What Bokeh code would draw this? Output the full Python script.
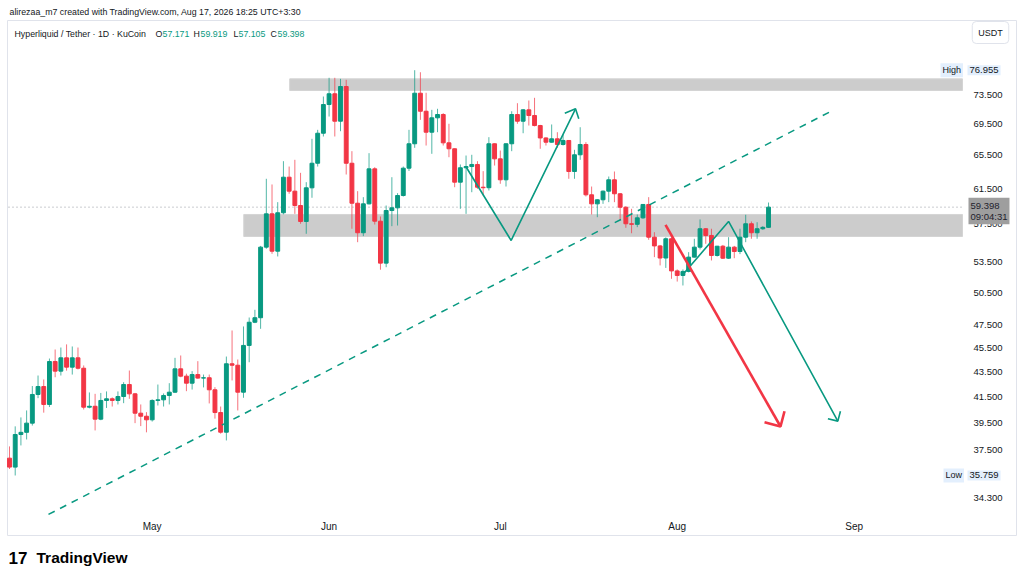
import math
import pandas as pd
from bokeh.plotting import figure
from bokeh.models import ColumnDataSource, Range1d, Label
from bokeh.embed import file_html
from bokeh.resources import INLINE

# daily candles HYPE/USDT, from 2026-04-06 to 2026-08-17
start = pd.Timestamp("2026-04-06")

opens = [36.95, 36.33, 38.64, 38.80, 39.48, 41.68, 42.31, 40.90, 44.36, 43.56,
         44.67, 43.89, 44.67, 43.80, 40.69, 40.76, 39.78, 41.21, 41.34, 41.21,
         41.52, 42.47, 41.73, 40.23, 40.00, 39.73, 41.21, 41.26, 41.60, 41.86,
         43.75, 43.15, 42.58, 43.28, 42.99, 43.02, 42.05, 40.28, 38.81, 44.17,
         44.05, 41.86, 45.73, 47.78, 48.19, 55.07, 58.65, 54.65, 58.77, 62.86,
         61.22, 59.58, 57.81, 61.61, 64.54, 68.31, 72.12, 73.60, 69.88, 74.62,
         64.54, 59.84, 56.59, 59.77, 63.86, 57.84, 53.43, 59.02, 59.32, 60.72,
         63.94, 66.96, 73.68, 71.21, 68.44, 70.33, 70.77, 67.08, 66.33, 62.27,
         63.99, 64.14, 64.39, 61.68, 61.62, 66.96, 65.08, 62.55, 66.96, 70.77,
         69.88, 71.40, 70.64, 69.31, 67.70, 67.16, 67.59, 66.87, 67.38, 63.54,
         65.58, 66.87, 60.80, 59.77, 60.23, 61.22, 62.55, 60.92, 59.39, 57.56,
         57.50, 58.21, 59.70, 56.12, 55.20, 53.95, 55.95, 52.65, 52.20, 52.60,
         54.04, 55.07, 57.02, 56.30, 54.21, 55.17, 53.93, 55.07, 54.62, 56.12,
         57.56, 56.59, 57.02, 57.171]
highs = [37.78, 39.24, 39.91, 40.44, 42.35, 43.20, 42.88, 44.61, 45.38, 45.55,
         45.82, 45.64, 45.55, 44.03, 41.84, 41.73, 41.80, 41.92, 41.45, 41.92,
         42.66, 43.61, 41.80, 40.90, 40.31, 41.30, 42.47, 41.76, 42.58, 44.67,
         44.87, 43.35, 43.56, 44.39, 43.28, 43.28, 42.26, 40.74, 44.78, 47.04,
         44.53, 47.40, 48.21, 48.92, 55.20, 62.67, 62.00, 59.96, 64.79, 64.14,
         64.96, 63.38, 62.27, 67.59, 68.75, 73.22, 75.86, 75.86, 75.71, 75.57,
         66.03, 61.22, 60.53, 65.78, 64.06, 58.36, 59.58, 62.86, 60.99, 64.14,
         68.75, 76.955, 76.66, 73.74, 71.40, 71.54, 70.95, 69.54, 66.37, 64.39,
         65.49, 65.58, 64.79, 63.58, 67.80, 67.00, 66.11, 67.00, 71.21, 72.30,
         71.50, 72.67, 73.04, 69.40, 67.80, 69.45, 68.44, 68.15, 67.40, 66.20,
         69.09, 67.16, 61.76, 60.30, 61.30, 62.94, 63.54, 61.00, 59.50, 59.21,
         58.58, 59.75, 60.53, 56.65, 55.30, 56.10, 56.10, 52.80, 52.80, 54.55,
         55.95, 58.03, 57.10, 57.02, 55.20, 55.30, 56.12, 55.20, 57.02, 58.55,
         57.81, 57.73, 57.30, 59.919]
lows = [36.20, 35.759, 37.85, 38.28, 39.30, 41.39, 40.27, 40.70, 43.06, 43.20,
        43.60, 43.28, 43.70, 40.51, 40.60, 38.94, 39.70, 40.63, 40.74, 40.90,
        41.00, 41.34, 39.48, 39.26, 38.80, 39.60, 40.82, 40.74, 40.90, 41.80,
        43.06, 41.94, 42.07, 42.94, 42.24, 40.98, 39.82, 38.70, 38.21, 42.80,
        40.44, 41.42, 44.30, 47.70, 47.19, 54.90, 54.38, 54.11, 58.60, 60.92,
        58.65, 57.56, 56.48, 60.46, 64.14, 67.89, 70.50, 67.89, 68.57, 63.18,
        57.02, 55.59, 56.23, 59.70, 57.48, 52.77, 53.02, 57.30, 57.37, 60.60,
        63.60, 66.45, 70.06, 66.74, 65.70, 68.44, 66.74, 65.28, 61.68, 59.21,
        58.65, 61.10, 61.49, 60.72, 61.30, 64.26, 62.08, 61.76, 66.03, 69.54,
        68.31, 69.31, 69.20, 66.33, 66.74, 67.10, 66.45, 66.74, 62.67, 62.67,
        64.96, 60.61, 58.58, 58.28, 59.77, 59.96, 59.96, 57.92, 57.12, 56.54,
        57.19, 58.10, 55.84, 54.04, 53.20, 52.95, 51.87, 51.60, 51.22, 52.50,
        54.00, 54.83, 55.42, 53.70, 54.10, 53.85, 53.85, 53.93, 54.35, 55.59,
        55.95, 55.95, 56.90, 57.105]
closes = [36.33, 38.64, 38.80, 39.48, 41.68, 42.31, 40.90, 44.36, 43.56, 44.67,
          43.89, 44.67, 43.80, 40.69, 40.76, 39.78, 41.21, 41.34, 41.21, 41.52,
          42.47, 41.73, 40.23, 40.00, 39.73, 41.21, 41.26, 41.60, 41.86, 43.75,
          43.15, 42.58, 43.28, 42.99, 43.02, 42.05, 40.28, 38.81, 44.17, 44.05,
          41.86, 45.73, 47.78, 48.19, 55.07, 58.65, 54.65, 58.77, 62.86, 61.22,
          59.58, 57.81, 61.61, 64.54, 68.31, 72.12, 73.60, 69.88, 74.62, 64.54,
          59.84, 56.59, 59.77, 63.86, 57.84, 53.43, 59.02, 59.32, 60.72, 63.94,
          66.96, 73.68, 71.21, 68.44, 70.33, 70.77, 67.08, 66.33, 62.27, 63.99,
          64.14, 64.39, 61.68, 61.62, 66.96, 65.08, 62.55, 66.96, 70.77, 69.88,
          71.40, 70.64, 69.31, 67.70, 67.16, 67.59, 66.87, 67.38, 63.54, 65.58,
          66.87, 60.80, 59.77, 60.23, 61.22, 62.55, 60.92, 59.39, 57.56, 57.50,
          58.21, 59.70, 56.12, 55.20, 53.95, 55.95, 52.65, 52.20, 52.60, 54.04,
          55.07, 57.02, 56.30, 54.21, 55.17, 53.93, 55.07, 54.62, 56.12, 57.56,
          56.59, 57.02, 57.171, 59.398]

price_ticks = [34.3, 37.5, 39.5, 41.5, 43.5, 45.5, 47.5, 50.5, 53.5, 57.5, 61.5, 65.5, 69.5, 73.5]
month_ticks = ["2026-05-01", "2026-06-01", "2026-07-01", "2026-08-01", "2026-09-01"]
month_names = ["May", "Jun", "Jul", "Aug", "Sep"]
hi_price, lo_price, last_price = 76.955, 35.759, 59.398
countdown = "09:04:31"

# drawings: (day offset from start, price)
zone_top = (49.1, 74.06, 75.71)
zone_mid = (41.05, 56.19, 58.58)
trend_day = [6.83, 143.86]
trend_price = [33.22, 71.17]
v_day = [79.96, 87.9, 99.18]
v_price = [64.14, 55.77, 71.54]
v_head_day = [97.3, 99.18, 99.75]
v_head_price = [70.95, 71.54, 70.20]
g2_day = [118.0, 126.0, 145.14]
g2_price = [52.30, 57.81, 39.63]
g2_head_day = [143.4, 145.14, 145.6]
g2_head_price = [39.81, 39.63, 40.38]
red_day = [114.95, 135.1]
red_price = [57.45, 39.23]
red_head_day = [132.3, 135.1, 135.8]
red_head_price = [39.55, 39.23, 40.38]

GREEN = "#089981"
RED = "#f23645"
TXT = "#131722"
FONT = "Liberation Sans"
DAY = 86400000

# page layout: the frame fills the canvas, price scale drawn at its right
W, H = 1020, 576
FIRST_PX, DAY_PX = 9.0, 5.707          # x of first candle, px per day
REF_PY, REF_P, LN_PX = 94.0, 73.5, 528.8  # y of 73.5, px per ln unit
PANE_R = 962                            # right edge of the price pane


def ms(d):
    return (start + pd.Timedelta(days=d)).value / 1e6


def xd(px):
    return ms((px - FIRST_PX) / DAY_PX)


def yd(py):
    return REF_P * math.exp(-(py - REF_PY) / LN_PX)


dates = pd.date_range(start, periods=len(closes), freq="D")
colors = [GREEN if c >= o else RED for o, c in zip(opens, closes)]
src = ColumnDataSource(dict(date=dates, open=opens, high=highs, low=lows, close=closes,
                            top=[max(o, c) for o, c in zip(opens, closes)],
                            bottom=[min(o, c) for o, c in zip(opens, closes)],
                            color=colors))

p = figure(width=W, height=H, x_axis_type="datetime", y_axis_type="log",
           x_axis_location=None, y_axis_location=None, tools="", toolbar_location=None,
           output_backend="svg",
           x_range=Range1d(xd(0), xd(W)), y_range=Range1d(yd(H), yd(0)),
           min_border=0)
p.xgrid.visible = False
p.ygrid.visible = False
p.outline_line_color = None
p.background_fill_color = "white"
p.border_fill_color = "white"

# pane border
p.line([xd(7), xd(7), xd(1016), xd(1016), xd(7)], [yd(535), yd(20), yd(20), yd(535), yd(535)],
       line_color="#e0e3eb", line_width=1)

# zones
for z in (zone_top, zone_mid):
    p.quad(left=ms(z[0]), right=xd(PANE_R), bottom=z[1], top=z[2],
           fill_color="#cccccc", line_color="#d4d4d4", line_width=1)

# last price line
p.line([xd(8), xd(PANE_R)], [last_price, last_price], line_color="#9598a1",
       line_dash="1 3", line_width=1)

# candles
p.segment(x0="date", y0="high", x1="date", y1="low", line_color="color",
          line_width=1, line_alpha=0.7, source=src)
p.vbar(x="date", width=0.68 * DAY, top="top", bottom="bottom", fill_color="color",
       line_color="color", line_width=1, source=src)

# drawings
p.line([ms(d) for d in trend_day], trend_price, line_color=GREEN, line_width=1.5, line_dash="7 6")
p.line([ms(d) for d in v_day], v_price, line_color=GREEN, line_width=1.6)
p.line([ms(d) for d in v_head_day], v_head_price, line_color=GREEN, line_width=1.6)
p.line([ms(d) for d in g2_day], g2_price, line_color=GREEN, line_width=1.6)
p.line([ms(d) for d in g2_head_day], g2_head_price, line_color=GREEN, line_width=1.6)
p.line([ms(d) for d in red_day], red_price, line_color=RED, line_width=2.6)
p.line([ms(d) for d in red_head_day], red_head_price, line_color=RED, line_width=2.6)

# price scale and time scale
p.text(x=[xd(973)] * len(price_ticks), y=price_ticks, text=["%.3f" % t for t in price_ticks],
       text_font={"value": FONT}, text_font_size="9.5px", text_color=TXT,
       text_baseline="middle", text_align="left")
p.text(x=pd.to_datetime(month_ticks), y=[yd(526)] * len(month_ticks), text=month_names,
       text_font={"value": FONT}, text_font_size="10px", text_color=TXT,
       text_baseline="middle", text_align="center")


def label(px, py, text, color=TXT, size="9px", y=None, **kw):
    lab = Label(x=xd(px), y=yd(py) if y is None else y, text=text,
                text_font=FONT, text_font_size=size, text_color=color,
                text_baseline="middle", **kw)
    p.add_layout(lab)
    return lab


# header
label(9, 11, "alirezaa_m7 created with TradingView.com, Aug 17, 2026 18:25 UTC+3:30", size="8.8px")
label(14, 33, "Hyperliquid / Tether · 1D · KuCoin", size="8.8px")
ohlc = [("O", 155, opens[-1], 162), ("H", 193, highs[-1], 200),
        ("L", 233, lows[-1], 238), ("C", 270, closes[-1], 277)]
for k, kx, v, vx in ohlc:
    label(kx, 33, k, size="8.8px")
    label(vx, 33, "%.3f" % v, size="8.8px", color=GREEN)

# price scale badges
label(990, 32, "USDT", size="9px", text_align="center",
      border_line_color="#e0e3eb", border_radius=4, padding=6)
label(940, 0, "High", y=hi_price, background_fill_color="#e3effd", padding=2)
label(967, 0, "%.3f" % hi_price, y=hi_price, size="9.5px", background_fill_color="#e3effd", padding=2)
label(943, 0, "Low", y=lo_price, background_fill_color="#e3effd", padding=2)
label(967, 0, "%.3f" % lo_price, y=lo_price, size="9.5px", background_fill_color="#e3effd", padding=2)
label(968, 210.5, "%.3f\n%s" % (last_price, countdown), size="9.5px",
      background_fill_color="#9e9e9e", color="#1e222d", padding=2, text_line_height=1.05)

# logo
label(8, 557, "17", size="17px", text_font_style="bold", color="#000000")
label(36, 557, "TradingView", size="15.5px", text_font_style="bold", color="#000000")

open("out.html", "w").write(file_html(p, INLINE))
